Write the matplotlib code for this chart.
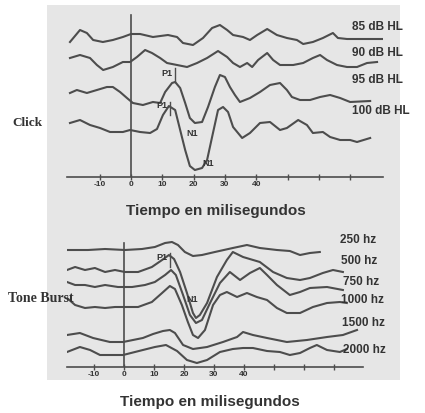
#Click / tone burst evoked responses, redrawn from a scanned figure

import numpy as np
import matplotlib
matplotlib.use("Agg")
import matplotlib.pyplot as plt
from matplotlib.patches import Rectangle

#Click traces: time (ms) and amplitude (arbitrary units)
t_85 = [-19.5,-16.3,-14.1,-12.1,-9.0,-5.8,-2.6,0,2.9,7.0,11.8,14.7,16.6,19.8,23.0,25.9,28.4,30.7,32.6,35.8,38.0,40.3,43.5,46.6,49.8,53.0,55.0,58.1,61.3,64.5,66.1,69.0,80.5]
a_85 = [-2,10,7,0,-2,0,3,6,6,3,5,3,-3,-5,2,12,15,10,5,3,0,5,11,5,2,0,-4,-2,2,7,2,1,1]
t_90 = [-19.5,-16.3,-13.1,-10.9,-8.9,-5.8,-2.6,-0.3,1.9,4.5,6.7,9.3,11.5,14.7,17.9,21.1,24.3,27.8,30.7,32.6,34.8,37.1,38.7,40.6,43.5,45.4,47.6,51.8,55.0,58.1,60.4,62.6,65.8,69.0,72.2,75.4,78.6]
a_90 = [2,5,2,-5,-10,-7,-2,-2,3,10,7,2,-3,-5,-7,-3,2,9,3,-3,-7,-3,-7,0,7,0,-5,-5,-3,2,5,0,-5,-7,-7,-3,-2]
t_95 = [-19.5,-17.3,-14.1,-10.9,-7.7,-5.8,-3.5,-1.3,0.6,3.8,7.0,9.3,10.9,13.1,14.1,15.7,17.3,18.8,20.4,22.7,24.6,26.8,28.4,30.0,31.6,33.2,34.8,38.0,41.2,44.4,47.6,49.8,51.4,54.0,57.2,60.4,63.6,66.8,70.0,76.4]
a_95 = [2,5,2,5,8,8,3,-3,-8,-10,-7,-8,3,12,13,7,-8,-23,-28,-27,-12,8,20,18,8,0,-7,-3,3,10,12,5,-2,-5,-5,-2,0,-3,-7,-6]
t_100 = [-19.5,-16.3,-13.1,-9.9,-6.7,-2.6,-0.3,2.9,6.1,8.3,10.2,12.1,14.1,15.7,17.3,18.8,20.4,22.7,24.3,25.9,27.8,29.4,31.0,32.6,35.5,38.0,41.2,44.4,47.6,49.8,53.4,56.2,58.1,61.3,63.6,66.8,70.0,72.2,76.4]
a_100 = [4,7,2,-1,-5,-5,-3,-5,-6,-2,12,21,17,-3,-23,-39,-43,-41,-33,-10,17,20,15,0,-11,-6,4,5,-3,-1,7,2,-6,-5,-10,-13,-13,-15,-11]

click_t = [t_85, t_90, t_95, t_100]
click_a = [a_85, a_90, a_95, a_100]
click_lbl = ["85 dB HL", "90 dB HL", "95 dB HL", "100 dB HL"]

#Tone burst traces
t_250 = [-19,-12,-6.3,0.3,6,10.3,13.7,16,18,20.3,23,26,30.3,36.3,41,45.3,51,55.3,58.7,62,65.3]
a_250 = [0,0,1,0,1,3,7,8,5,-2,-6,-5,-2,2,5,2,0,-1,-5,-3,-2]
t_500 = [-19,-16.3,-13,-9.7,-6.3,-3,0.3,4.7,9.3,12.7,15,16.7,18.7,21,23,24,25.3,27.7,31,34.3,36.3,39.7,45.3,49.7,54.3,58.7,62,66.3,69.7,73]
a_500 = [0,3,0,2,-2,0,-2,-2,3,10,15,11,-2,-23,-43,-48,-45,-33,-7,10,18,13,8,-2,-8,-10,-8,-3,0,-2]
t_750 = [-19,-16.3,-13,-9.7,-6.3,-2,2.7,7,10.3,13.7,15.7,17.3,19.7,22,24,26,28.7,32,35.3,38.7,42,45.3,47.7,51,55.3,58.7,62,67.7,73]
a_750 = [3,0,0,-2,0,-2,-2,0,3,10,15,10,-10,-30,-38,-35,-18,2,13,5,12,17,10,0,-10,-7,-3,-2,-5]
t_1000 = [-19,-16.3,-13,-9.7,-6.3,-3,0.3,4.7,9.3,12.7,15.3,17,19.3,21.3,23,24.7,27,29.7,32,34.3,37.7,41,44.3,47.7,51,54.3,58.7,63,67.7,72,74.3]
a_1000 = [7,0,-3,-2,-3,-2,-2,-2,3,12,19,16,0,-17,-30,-33,-25,0,10,13,8,12,8,5,-3,-8,-8,-2,2,3,2]
t_1500 = [-19,-14.7,-10.3,-4.7,-0.3,6.3,9.7,13,15.3,17,19.7,23,27.7,33,37.7,39.7,43,47.7,54.3,61,67.7,73,77.7]
a_1500 = [3,5,0,-4,-4,0,4,7,8,5,-7,-11,-9,-4,1,6,3,0,-4,-2,1,3,8]
t_2000 = [-19,-14.7,-11.3,-8,-0.3,6.3,10.3,14,17.7,21,24.3,27.7,32,36.3,39.7,43,47.7,52,55.3,58.7,62,64.3,67.7,72,74.3]
a_2000 = [0,5,2,-3,-3,2,5,7,1,-8,-11,-8,0,3,4,4,1,0,-3,-1,4,7,2,0,3]

tone_t = [t_250, t_500, t_750, t_1000, t_1500, t_2000]
tone_a = [a_250, a_500, a_750, a_1000, a_1500, a_2000]
tone_lbl = ["250 hz", "500 hz", "750 hz", "1000 hz", "1500 hz", "2000 hz"]

tick_pos = [-10, 0, 10, 20, 30, 40, 50, 60, 70]
tick_lbl = ["-10", "0", "10", "20", "30", "40", "", "", ""]

#Layout (pixels of the 425x413 output)
W, H = 425.0, 413.0
click_off = [137, 117, 82, 50]
tone_off = [117, 97, 82, 62, 29, 15]
lCol = "#4d4d4d"
tCol = "#333333"
sans = ["Liberation Sans", "DejaVu Sans"]
serif = ["Liberation Serif", "DejaVu Serif"]

def px(x, y):
	return x/W, 1.0 - y/H

fig = plt.figure(figsize=(W/100, H/100), dpi=100)
fig.patch.set_facecolor("white")
fig.patches.append(Rectangle(px(47, 380), 353/W, 375/H, transform=fig.transFigure,
	facecolor="#e6e6e6", edgecolor="none", zorder=-5))

def setupAx(ax, xlim, ytop, vtop):
	ax.set_xlim(xlim)
	ax.set_ylim(0, ytop)
	ax.patch.set_alpha(0)
	for s in ["top", "right", "left"]:
		ax.spines[s].set_visible(False)
	ax.spines["bottom"].set_color(lCol)
	ax.spines["bottom"].set_linewidth(1.2)
	ax.set_yticks([])
	ax.set_xticks(tick_pos)
	ax.set_xticklabels(tick_lbl, fontsize=6, fontweight="bold", color=tCol, family=sans)
	ax.tick_params(axis="x", direction="inout", length=4, width=1, color=lCol, pad=1)
	ax.axvline(0, ymin=0, ymax=vtop/ytop, color=lCol, lw=1.2)

#Top panel: click
axT = fig.add_axes([67/W, (H-177)/H, 316/W, 167/H])
setupAx(axT, (-20.45, 80.5), 167, 162)
for t, a, o in zip(click_t, click_a, click_off):
	axT.plot(t, np.array(a) + o, color=lCol, lw=1.5, solid_joinstyle="round")

#Bottom panel: tone burst
axB = fig.add_axes([67/W, (H-367)/H, 296/W, 127/H])
setupAx(axB, (-19.0, 79.7), 127, 124)
for t, a, o in zip(tone_t, tone_a, tone_off):
	axB.plot(t, np.array(a) + o, color=lCol, lw=1.5, solid_joinstyle="round")

#Labels
for lbl, y in zip(click_lbl, [27, 53, 80, 111]):
	fig.text(*px(352, y), lbl, fontsize=8.5, fontweight="bold", color=tCol, family=sans, va="center")
for lbl, (x, y) in zip(tone_lbl, [(340, 240), (341, 261), (343, 282), (341, 300), (342, 323), (343, 350)]):
	fig.text(*px(x, y), lbl, fontsize=8.5, fontweight="bold", color=tCol, family=sans, va="center")

fig.text(*px(12, 123), "Click", fontsize=9.5, fontweight="bold", color=tCol, family=serif, va="center")
fig.text(*px(8, 298), "Tone Burst", fontsize=10, fontweight="bold", color=tCol, family=serif, va="center")
fig.text(*px(216, 211), "Tiempo en milisegundos", fontsize=11, fontweight="bold", color=tCol, family=sans, ha="center", va="center")
fig.text(*px(210, 402), "Tiempo en milisegundos", fontsize=11, fontweight="bold", color=tCol, family=sans, ha="center", va="center")

#Peak markers (P1 / N1)
mk = dict(fontsize=6.5, fontweight="bold", color=tCol, family=sans, ha="center", va="center")
fig.text(*px(167, 74), "P1", **mk)
fig.text(*px(162, 106), "P1", **mk)
fig.text(*px(192, 133), "N1", **mk)
fig.text(*px(208, 163), "N1", **mk)
fig.text(*px(162, 258), "P1", **mk)
fig.text(*px(192, 300), "N1", **mk)
axT.plot([(175-131)/3.13]*2, [177-82, 177-68], color=lCol, lw=1)
axT.plot([(170-131)/3.13]*2, [177-115, 177-102], color=lCol, lw=1)
axB.plot([(170-124)/3.0]*2, [367-267, 367-253], color=lCol, lw=1)

fig.savefig("out.png", dpi=100)
